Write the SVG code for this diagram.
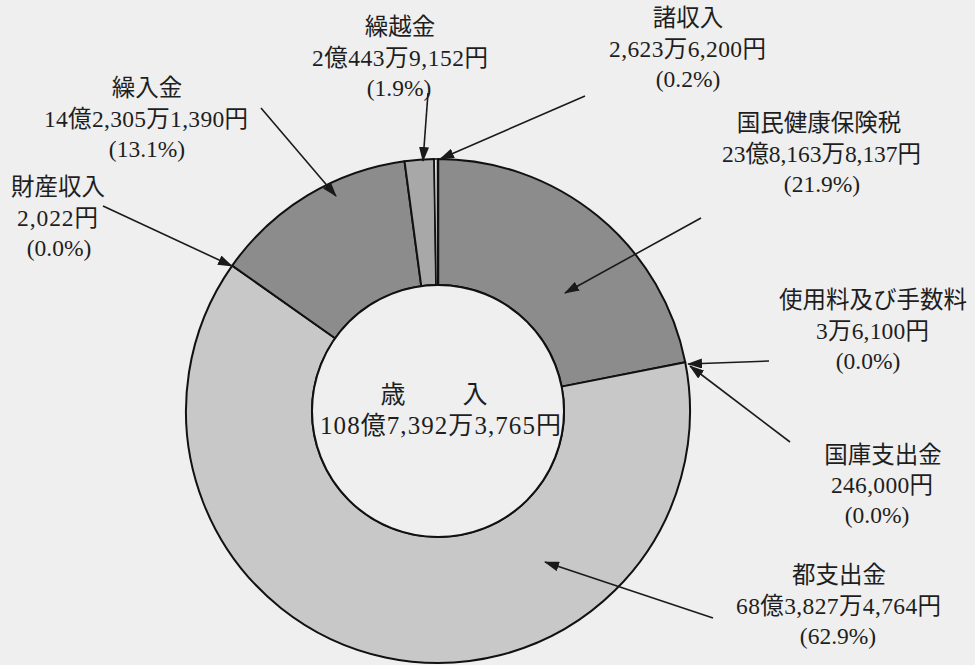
<svg xmlns="http://www.w3.org/2000/svg" width="975" height="665" viewBox="0 0 975 665">
<style>
.bg{fill:#efefef}
.seg{stroke:#111;stroke-width:2;stroke-linejoin:round}
.dark{fill:#8c8c8c}
.light{fill:#c8c8c8}
.mid{fill:#a8a8a8}
.pale{fill:#e6e6e6}
.t{font-family:"Liberation Serif","Noto Sans CJK JP",serif;font-size:23.5px;fill:#1e1e1e;text-anchor:middle}
.c{font-size:25px}
.arr{stroke:#1a1a1a;stroke-width:1.6;fill:none;marker-end:url(#ah)}
</style>
<defs>
<marker id="ah" markerUnits="userSpaceOnUse" markerWidth="15" markerHeight="10" refX="14" refY="5" orient="auto">
<path d="M0,0 L15,5 L0,10 Z" fill="#1a1a1a"/>
</marker>
</defs>
<rect class="bg" x="0" y="0" width="975" height="665"/>
<g id="donut">
<g id="seg-kokuho"><path class="seg dark" d="M438,159 A252,252 0 0 1 685.25,362.27 L561.62,386.63 A126,126 0 0 0 438,285 Z"/></g>
<g id="seg-toshishutsu"><path class="seg light" d="M685.25,362.27 A252,252 0 1 1 232.21,265.56 L335.11,338.28 A126,126 0 1 0 561.62,386.63 Z"/></g>
<g id="seg-kurire"><path class="seg dark" d="M232.21,265.56 A252,252 0 0 1 404.5,161.24 L421.25,286.12 A126,126 0 0 0 335.11,338.28 Z"/></g>
<g id="seg-kurikoshi"><path class="seg mid" d="M404.5,161.24 A252,252 0 0 1 434.17,159.03 L436.09,285.01 A126,126 0 0 0 421.25,286.12 Z"/></g>
<g id="seg-shoshunyu"><path class="seg pale" style="stroke-width:1.5" d="M434.17,159.03 A252,252 0 0 1 438,159 L438,285 A126,126 0 0 0 436.09,285.01 Z"/></g>
<line x1="438" y1="159" x2="438" y2="285" stroke="#111" stroke-width="2.5"/>
<circle cx="438" cy="411" r="126" fill="#efefef" stroke="#111" stroke-width="2"/>
</g>
<g id="center">
<text class="t c" x="434" y="403" textLength="107">歳　　入</text>
<text class="t c" x="440.5" y="434" textLength="241">108億7,392万3,765円</text>
</g>
<g id="connectors">
<line class="arr" x1="428" y1="93" x2="423" y2="161"/>
<line class="arr" x1="585" y1="96" x2="440" y2="159"/>
<line class="arr" x1="261" y1="108" x2="336" y2="196"/>
<line class="arr" x1="103" y1="206" x2="232" y2="266"/>
<line class="arr" x1="701" y1="218" x2="565" y2="293"/>
<line class="arr" x1="769" y1="361" x2="688" y2="364"/>
<line class="arr" x1="790" y1="442" x2="690" y2="366"/>
<line class="arr" x1="713" y1="618" x2="545" y2="562"/>
</g>
<g id="label-kurikoshi">
<text class="t" x="400" y="35">繰越金</text>
<text class="t" x="400" y="66" textLength="176">2億443万9,152円</text>
<text class="t" x="399" y="96">(1.9%)</text>
</g>
<g id="label-shoshunyu">
<text class="t" x="688" y="26">諸収入</text>
<text class="t" x="687.5" y="57" textLength="157">2,623万6,200円</text>
<text class="t" x="688" y="87">(0.2%)</text>
</g>
<g id="label-kurire">
<text class="t" x="147" y="96">繰入金</text>
<text class="t" x="146" y="127" textLength="204">14億2,305万1,390円</text>
<text class="t" x="147" y="157">(13.1%)</text>
</g>
<g id="label-zaisan">
<text class="t" x="58" y="195">財産収入</text>
<text class="t" x="57.5" y="226" textLength="81">2,022円</text>
<text class="t" x="59" y="256">(0.0%)</text>
</g>
<g id="label-kokuho">
<text class="t" x="819" y="131">国民健康保険税</text>
<text class="t" x="821.5" y="162" textLength="199">23億8,163万8,137円</text>
<text class="t" x="822" y="192">(21.9%)</text>
</g>
<g id="label-shiyoryo">
<text class="t" x="873" y="308">使用料及び手数料</text>
<text class="t" x="872.5" y="339" textLength="113">3万6,100円</text>
<text class="t" x="868" y="369">(0.0%)</text>
</g>
<g id="label-kokko">
<text class="t" x="883" y="463">国庫支出金</text>
<text class="t" x="882" y="493" textLength="102">246,000円</text>
<text class="t" x="877" y="523">(0.0%)</text>
</g>
<g id="label-toshishutsu">
<text class="t" x="839" y="583">都支出金</text>
<text class="t" x="838.5" y="614" textLength="205">68億3,827万4,764円</text>
<text class="t" x="838" y="644">(62.9%)</text>
</g>
</svg>
